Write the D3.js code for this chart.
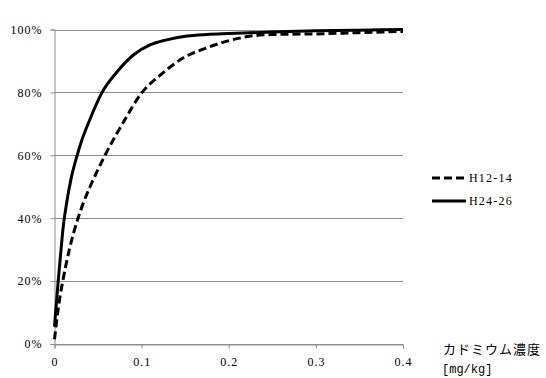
<!DOCTYPE html>
<html>
<head>
<meta charset="utf-8">
<script src="https://cdn.jsdelivr.net/npm/d3@7"></script>
<style>
	body { margin: 0; background: #ffffff; }
	svg text { font-family: "Liberation Serif", "DejaVu Serif", serif; fill: #000000; }
	.jp { font-family: "Noto Sans CJK JP", sans-serif; }
</style>
</head>
<body>
<svg id="chart" width="546" height="378"></svg>
<script>
// Cadmium concentration - cumulative distribution

// X ticks and Y ticks
var xTicks = [0, 0.1, 0.2, 0.3, 0.4];
var yTicks = [0, 20, 40, 60, 80, 100];

// Series names
var seriesNames = ['H12-14', 'H24-26'];

// H12-14 (dashed)
var xOld = [0, 0.003, 0.006, 0.0097, 0.017, 0.027, 0.034, 0.0408, 0.058, 0.079, 0.1005, 0.121, 0.148, 0.175, 0.201, 0.225, 0.250, 0.300, 0.350, 0.400];
var yOld = [1.5, 8.5, 14.5, 20.3, 30, 40, 45.5, 50, 60, 70.5, 80, 85.4, 91, 94.2, 96.5, 97.9, 98.4, 98.6, 99, 99.4];

// H24-26 (solid)
var xNew = [0, 0.002, 0.0044, 0.007, 0.0101, 0.014, 0.019, 0.026, 0.031, 0.040, 0.054, 0.0714, 0.0905, 0.1096, 0.1287, 0.152, 0.175, 0.200, 0.250, 0.300, 0.350, 0.400];
var yNew = [5.5, 12.5, 20.5, 28.5, 37.5, 45, 52.5, 60, 64.5, 71, 79.7, 86.4, 91.9, 95.1, 96.7, 97.9, 98.4, 98.7, 99.2, 99.6, 99.8, 100];

var chart = d3.select('#chart');

var x = d3.scaleLinear().domain([0, 0.4]).range([54.5, 403]);
var y = d3.scaleLinear().domain([0, 100]).range([344, 29.5]);

// Zip two arrays into points
function utility_Zip(xs, ys) {
	return xs.map(function(d, i) { return [d, ys[i]]; });
};

// Gridlines
chart.append('g')
	.selectAll('line')
	.data(yTicks)
	.enter()
	.append('line')
	.attr('x1', x(0))
	.attr('x2', x(0.4))
	.attr('y1', function(d) { return Math.round(y(d)) + 0.5; })
	.attr('y2', function(d) { return Math.round(y(d)) + 0.5; })
	.style('stroke', '#8c8c8c')
	.style('stroke-width', 1);

// Y axis
chart.append('g')
	.attr('transform', 'translate(' + x(0) + ',0)')
	.call(d3.axisLeft(y).tickValues(yTicks).tickSize(4).tickPadding(8)
		.tickFormat(function(d) { return d + '%'; }));

// X axis
chart.append('g')
	.attr('transform', 'translate(0,' + (Math.round(y(0)) + 0.5) + ')')
	.call(d3.axisBottom(x).tickValues(xTicks).tickSize(4).tickPadding(9)
		.tickFormat(function(d) { return d === 0 ? '0' : d3.format('.1f')(d); }));

chart.selectAll('.domain').style('stroke', '#8c8c8c');
chart.selectAll('.tick line').style('stroke', '#8c8c8c');
chart.selectAll('.tick text')
	.style('font-family', '"Liberation Serif", "DejaVu Serif", serif')
	.style('font-size', '12px')
	.style('letter-spacing', '1px')
	.style('fill', '#000000');

// Lines
var line = d3.line()
	.x(function(d) { return x(d[0]); })
	.y(function(d) { return y(d[1]); })
	.curve(d3.curveMonotoneX);

chart.append('path')
	.datum(utility_Zip(xOld, yOld))
	.attr('d', line)
	.style('fill', 'none')
	.style('stroke', '#000000')
	.style('stroke-width', 3)
	.style('stroke-dasharray', '8,4');

chart.append('path')
	.datum(utility_Zip(xNew, yNew))
	.attr('d', line)
	.style('fill', 'none')
	.style('stroke', '#000000')
	.style('stroke-width', 3);

// Legend
var legend = chart.append('g').attr('class', 'legend');
var dashes = ['8,4', null];

for (var i = 0; i < seriesNames.length; i++) {

	legend.append('line')
		.attr('x1', 432)
		.attr('x2', 466)
		.attr('y1', 178 + i * 23)
		.attr('y2', 178 + i * 23)
		.style('stroke', '#000000')
		.style('stroke-width', 3)
		.style('stroke-dasharray', dashes[i]);

	legend.append('text')
		.attr('x', 469)
		.attr('y', 182 + i * 23)
		.style('font-size', '12px')
		.style('letter-spacing', '1.2px')
		.text(seriesNames[i]);
};

// Axis title
chart.append('text')
	.attr('class', 'jp')
	.attr('x', 443)
	.attr('y', 354)
	.style('font-size', '13px')
	.style('letter-spacing', '1px')
	.text('カドミウム濃度');

chart.append('text')
	.attr('x', 442)
	.attr('y', 373)
	.style('font-family', '"Liberation Mono", monospace')
	.style('font-size', '12px')
	.text('[mg/kg]');
</script>
</body>
</html>
